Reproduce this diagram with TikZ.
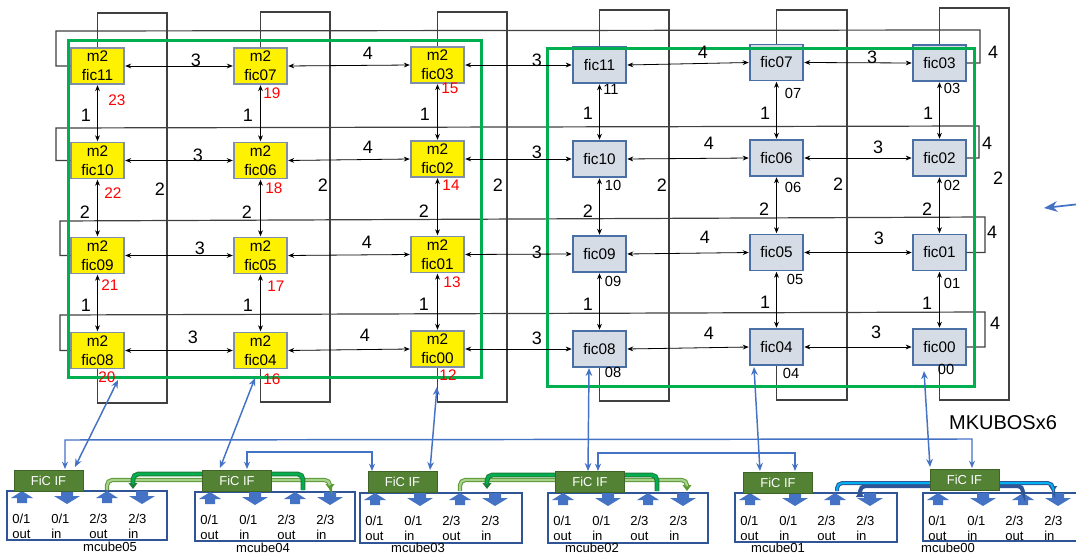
\documentclass[tikz,border=0pt]{standalone}
\usepackage{fontspec}
\setmainfont{Liberation Sans}
\usetikzlibrary{arrows.meta,calc,fit}
\definecolor{ybord}{HTML}{7F8FA9}
\definecolor{gbord}{HTML}{4A6FA5}
\definecolor{gfill}{HTML}{D6DCE5}
\definecolor{wrapc}{HTML}{404040}
\definecolor{grn}{HTML}{00B050}
\definecolor{ficg}{HTML}{548235}
\definecolor{ficd}{HTML}{3F6428}
\definecolor{cubeb}{HTML}{2F5597}
\definecolor{blkc}{HTML}{4472C4}
\definecolor{bline}{HTML}{4472C4}
\definecolor{lgout}{HTML}{5A9A32}
\definecolor{lgin}{HTML}{A9D18E}
\definecolor{dgout}{HTML}{1F7A3A}
\definecolor{dgin}{HTML}{00B050}
\definecolor{cyin}{HTML}{00B0F0}
\definecolor{redn}{HTML}{FF0000}
\newcommand\cubeins[3]{%
 \pic at ({#2+15},#3) {blkup};
 \pic at ({#2+60},#3) {blkdn};
 \pic at ({#2+100},#3) {blkup};
 \pic at ({#2+135},#3) {blkdn};
 \node[ctxt] (#1a) at ({#2+5},{#3+32}) {0/1};
 \node[ctxt] (#1b) at ({#2+5},{#3+47}) {out};
 \node[ctxt] (#1c) at ({#2+44},{#3+32}) {0/1};
 \node[ctxt] (#1d) at ({#2+44},{#3+47}) {in};
 \node[ctxt] (#1e) at ({#2+82},{#3+32}) {2/3};
 \node[ctxt] (#1f) at ({#2+82},{#3+47}) {out};
 \node[ctxt] (#1g) at ({#2+121},{#3+32}) {2/3};
 \node[ctxt] (#1h) at ({#2+121},{#3+47}) {in};
}
\begin{document}
\begin{tikzpicture}[x=0.75pt,y=-0.75pt,
 ybox/.style={draw=ybord, fill=yellow, line width=0.8pt, minimum width=39.75pt, minimum height=27pt, inner sep=0pt, align=center, font=\fontsize{11.5}{14}\selectfont},
 gbox/.style={draw=gbord, fill=gfill, line width=0.9pt, minimum width=39.75pt, minimum height=27pt, inner sep=0pt, font=\fontsize{11.5}{14}\selectfont},
 wrapl/.style={draw=wrapc, line width=0.9pt},
 lnk/.style={draw=black, line width=0.6pt, {Stealth[length=4.5pt,width=3.6pt]}-{Stealth[length=4.5pt,width=3.6pt]}, shorten <=0.5pt, shorten >=0.5pt},
 lab/.style={font=\fontsize{13.5}{15}\selectfont, inner sep=0pt},
 rednum/.style={text=redn, font=\fontsize{11.5}{13}\selectfont, inner sep=0pt},
 gnum/.style={text=black, font=\fontsize{11}{13}\selectfont, inner sep=0pt},
 grect/.style={draw=grn, line width=2.25pt},
 fic/.style={fill=ficg, draw=ficd, line width=0.5pt, text=white, minimum width=52pt, minimum height=15.75pt, inner sep=0pt, font=\fontsize{9.7}{11}\selectfont},
 cubebox/.style={draw=cubeb, line width=2.2pt, inner sep=0pt},
 ctxt/.style={font=\fontsize{9.8}{11}\selectfont, inner sep=0pt, anchor=base west},
 cname/.style={font=\fontsize{9.8}{11}\selectfont, inner sep=0pt, anchor=base},
 barr/.style={draw=bline, line width=1.1pt, {Stealth[length=6pt,width=5pt]}-{Stealth[length=6pt,width=5pt]}},
 bus/.style={draw=bline, line width=1.1pt, {Stealth[length=5.5pt,width=4.5pt]}-{Stealth[length=5.5pt,width=4.5pt]}},
 lgo/.style={draw=lgout, line width=3.2pt, rounded corners=4pt, -{Triangle[length=4.5pt,width=6.5pt]}},
 lgi/.style={draw=lgin, line width=1.7pt, rounded corners=4pt, shorten >=3.5pt},
 dgo/.style={draw=dgout, line width=3.6pt, rounded corners=4pt, -{Triangle[length=4.5pt,width=6.5pt]}},
 dgi/.style={draw=dgin, line width=2pt, rounded corners=4pt, shorten >=3.5pt},
 cyo/.style={draw=cubeb, line width=3pt, rounded corners=4pt, -{Triangle[length=4.5pt,width=6pt]}},
 cyi/.style={draw=cyin, line width=1.5pt, rounded corners=4pt, shorten >=3.5pt},
 nvo/.style={draw=cubeb, line width=3pt, rounded corners=4pt, -{Triangle[length=4.5pt,width=6pt]}},
 blkup/.pic={\fill[blkc] (-5,12) -- (-5,7) -- (-11,7) -- (0,0) -- (11,7) -- (5,7) -- (5,12) -- cycle;},
 blkdn/.pic={\fill[blkc] (-6,0) -- (-6,5) -- (-13,5) -- (0,13) -- (13,5) -- (6,5) -- (6,0) -- cycle;}
]
\useasboundingbox (0,0) rectangle (1076,556);
\fill[white] (0,0) rectangle (1076,556);

% ---------------- wrap-around lines (under the boxes)
\coordinate (y11n) at (97.5,48);  % helper only for ordering
% ---------------- nodes of the grid
\node[ybox] (y11) at (97.5,66) {m2\\fic11};
\node[ybox] (y07) at (260.5,66) {m2\\fic07};
\node[ybox] (y03) at (437.5,65) {m2\\fic03};
\node[ybox] (y10) at (97.5,160.5) {m2\\fic10};
\node[ybox] (y06) at (260.5,160.5) {m2\\fic06};
\node[ybox] (y02) at (437.5,159) {m2\\fic02};
\node[ybox] (y09) at (97.5,255.5) {m2\\fic09};
\node[ybox] (y05) at (260.5,255.5) {m2\\fic05};
\node[ybox] (y01) at (437.5,254.5) {m2\\fic01};
\node[ybox] (y08) at (97.5,350.5) {m2\\fic08};
\node[ybox] (y04) at (260.5,350.5) {m2\\fic04};
\node[ybox] (y00) at (437.5,349) {m2\\fic00};

\node[gbox] (g11) at (599.5,65) {fic11};
\node[gbox] (g07) at (776.5,62.5) {fic07};
\node[gbox] (g03) at (939.5,63) {fic03};
\node[gbox] (g10) at (599.5,159) {fic10};
\node[gbox] (g06) at (776.5,158) {fic06};
\node[gbox] (g02) at (939.5,158) {fic02};
\node[gbox] (g09) at (599.5,254) {fic09};
\node[gbox] (g05) at (776.5,252.5) {fic05};
\node[gbox] (g01) at (939.5,252.5) {fic01};
\node[gbox] (g08) at (599.5,349) {fic08};
\node[gbox] (g04) at (776.5,347) {fic04};
\node[gbox] (g00) at (939.5,347) {fic00};

\draw[wrapl] (y11.north) |- (167,13) -- (167,403) -| (y08.south);
\draw[wrapl] (y07.north) |- (330,12) -- (330,402) -| (y04.south);
\draw[wrapl] (y03.north) |- (507,12) -- (507,402) -| (y00.south);
\draw[wrapl] (g11.north) |- (669,10) -- (669,401) -| (g08.south);
\draw[wrapl] (g07.north) |- (847,10) -- (847,400) -| (g04.south);
\draw[wrapl] (g03.north) |- (1009,8) -- (1009,400) -| (g00.south);

\draw[wrapl] (y11.west) -| (56,31) -- (980,30) |- (g03.east);
\draw[wrapl] (y10.west) -| (56,128) -- (979,126) |- (g02.east);
\draw[wrapl] (y09.west) -| (60,221) -- (985,217) |- (g01.east);
\draw[wrapl] (y08.west) -| (60,315) -- (985,312) |- (g00.east);

% ---------------- green frames
\draw[grect] (68,41) rectangle (481,378);
\draw[grect] (547,49) rectangle (974,387);

% ---------------- links
\foreach \a/\b in {y11/y07,y07/y03,y03/g11,g11/g07,g07/g03,
                   y10/y06,y06/y02,y02/g10,g10/g06,g06/g02,
                   y09/y05,y05/y01,y01/g09,g09/g05,g05/g01,
                   y08/y04,y04/y00,y00/g08,g08/g04,g04/g00}
  {\draw[lnk] (\a.east) -- (\b.west);}
\foreach \a/\b in {y11/y10,y10/y09,y09/y08,y07/y06,y06/y05,y05/y04,y03/y02,y02/y01,y01/y00,
                   g11/g10,g10/g09,g09/g08,g07/g06,g06/g05,g05/g04,g03/g02,g02/g01,g01/g00}
  {\draw[lnk] (\a.south) -- (\b.north);}

% ---------------- link labels
\node[lab] (h11) at (196,60) {3};
\node[lab] (h12) at (368,53) {4};
\node[lab] (h13) at (537,60) {3};
\node[lab] (h14) at (703,52) {4};
\node[lab] (h15) at (872,57) {3};
\node[lab] (h21) at (198,155) {3};
\node[lab] (h22) at (368,147) {4};
\node[lab] (h23) at (537,152) {3};
\node[lab] (h24) at (709,143) {4};
\node[lab] (h25) at (878,147) {3};
\node[lab] (h31) at (200,248) {3};
\node[lab] (h32) at (367,242) {4};
\node[lab] (h33) at (537,252) {3};
\node[lab] (h34) at (705,237) {4};
\node[lab] (h35) at (879,238) {3};
\node[lab] (h41) at (193,337) {3};
\node[lab] (h42) at (365,335) {4};
\node[lab] (h43) at (537,338) {3};
\node[lab] (h44) at (709,333) {4};
\node[lab] (h45) at (876,332) {3};

\node[lab] (v11) at (86,115) {1};
\node[lab] (v12) at (248,115) {1};
\node[lab] (v13) at (425,114) {1};
\node[lab] (v14) at (588,113) {1};
\node[lab] (v15) at (765,113) {1};
\node[lab] (v16) at (928,113) {1};
\node[lab] (v21) at (85,212) {2};
\node[lab] (v22) at (247,212) {2};
\node[lab] (v23) at (424,211) {2};
\node[lab] (v24) at (588,211) {2};
\node[lab] (v25) at (764,209) {2};
\node[lab] (v26) at (927,209) {2};
\node[lab] (v31) at (86,305) {1};
\node[lab] (v32) at (248,305) {1};
\node[lab] (v33) at (424,304) {1};
\node[lab] (v34) at (588,304) {1};
\node[lab] (v35) at (765,302) {1};
\node[lab] (v36) at (927,303) {1};

\node[lab] (c1) at (160,189) {2};
\node[lab] (c2) at (323,185) {2};
\node[lab] (c3) at (498,185) {2};
\node[lab] (c4) at (662,185) {2};
\node[lab] (c5) at (838,184) {2};
\node[lab] (c6) at (998,178) {2};
\node[lab] (r1) at (993,52) {4};
\node[lab] (r2) at (987,143) {4};
\node[lab] (r3) at (992,232) {4};
\node[lab] (r4) at (995,323) {4};

% ---------------- numbers
\node[rednum] (n23) at (117,100) {23};
\node[rednum] (n19) at (272,93) {19};
\node[rednum] (n15) at (450,88) {15};
\node[rednum] (n22) at (113,193) {22};
\node[rednum] (n18) at (274,188) {18};
\node[rednum] (n14) at (451,185) {14};
\node[rednum] (n21) at (110,285) {21};
\node[rednum] (n17) at (276,286) {17};
\node[rednum] (n13) at (452,282) {13};
\node[rednum] (n20) at (107,377) {20};
\node[rednum] (n16) at (272,379) {16};
\node[rednum] (n12) at (448,375) {12};

\node[gnum] (k11) at (611,89) {11};
\node[gnum] (k07) at (793,93) {07};
\node[gnum] (k03) at (952,88) {03};
\node[gnum] (k10) at (613,185) {10};
\node[gnum] (k06) at (793,187) {06};
\node[gnum] (k02) at (952,185) {02};
\node[gnum] (k09) at (613,281) {09};
\node[gnum] (k05) at (795,279) {05};
\node[gnum] (k01) at (952,283) {01};
\node[gnum] (k08) at (613,372) {08};
\node[gnum] (k04) at (791,373) {04};
\node[gnum] (k00) at (946,369) {00};

% ---------------- lower part: mcube boxes
\node[cubebox, fit={(7,491) (167,540)}] (m05) {};
\node[cubebox, fit={(195,492) (355,541)}] (m04) {};
\node[cubebox, fit={(360,493) (522,543)}] (m03) {};
\node[cubebox, fit={(548,493) (708,543)}] (m02) {};
\node[cubebox, fit={(735,493) (897,542)}] (m01) {};
\node[cubebox, fit={(923,493) (1090,541)}] (m00) {};
\cubeins{p5}{7}{491}
\cubeins{p4}{195}{492}
\cubeins{p3}{360}{493}
\cubeins{p2}{548}{493}
\cubeins{p1}{735}{493}
\cubeins{p0}{923}{493}
\node[cname] (l05) at (110,551) {mcube05};
\node[cname] (l04) at (263,552) {mcube04};
\node[cname] (l03) at (418,552.5) {mcube03};
\node[cname] (l02) at (592,552.5) {mcube02};
\node[cname] (l01) at (778,552.5) {mcube01};
\node[cname] (l00) at (948,552) {mcube00};

% loops between neighbouring cubes
\draw[lgo] (107,490) -- (107,480) -- (330,480) -- (330,490);
\draw[lgi] (107,490) -- (107,480) -- (330,480) -- (330,490);
\draw[dgo] (303,490) -- (303,474) -- (133,474) -- (133,489);
\draw[dgi] (303,490) -- (303,474) -- (133,474) -- (133,489);
\draw[lgo] (460,491) -- (460,480) -- (687,480) -- (687,491);
\draw[lgi] (460,491) -- (460,480) -- (687,480) -- (687,491);
\draw[dgo] (657,491) -- (657,475) -- (487,475) -- (487,489);
\draw[dgi] (657,491) -- (657,475) -- (487,475) -- (487,489);
\draw[nvo] (1023,491) -- (1023,486) -- (860,486) -- (860,491);
\draw[cyo] (837,491) -- (837,483) -- (1053,483) -- (1053,492);
\draw[cyi] (837,491) -- (837,483) -- (1053,483) -- (1053,492);

% FiC IF blocks
\node[fic] (f05) at (48.5,480.5) {FiC IF};
\node[fic] (f04) at (237,480.5) {FiC IF};
\node[fic] (f03) at (402.5,482) {FiC IF};
\node[fic] (f02) at (590,482) {FiC IF};
\node[fic] (f01) at (778,482.5) {FiC IF};
\node[fic] (f00) at (964.5,480) {FiC IF};

% blue connections
\coordinate (t05) at (118,380);
\coordinate (b05) at (75,467);
\coordinate (t04) at (255,378);
\coordinate (b04) at (220,468);
\coordinate (t03) at (437,387);
\coordinate (b03) at (430,470);
\coordinate (t02) at (589,368);
\coordinate (b02) at (588,471);
\coordinate (t01) at (754,367);
\coordinate (b01) at (760,471);
\coordinate (t00) at (924,371);
\coordinate (b00) at (930,467);
\foreach \i in {05,04,03,02,01,00} {\draw[barr] (t\i) -- (b\i);}

\coordinate (ba1) at (65,469);
\coordinate (ba2) at (972,468);
\draw[bus] (ba1) -- (65,440) -- (972,439) -- (ba2);
\coordinate (bb1) at (247,469);
\coordinate (bb2) at (372,471);
\draw[bus] (bb1) -- (247,452) -- (372,452) -- (bb2);
\coordinate (bc1) at (598,471);
\coordinate (bc2) at (795,471);
\draw[bus] (bc1) -- (598,453) -- (795,453) -- (bc2);

\coordinate (ra) at (1080,204);
\coordinate (rb) at (1044,208);
\draw[draw=bline, line width=1.3pt, -{Stealth[length=10pt,width=8pt]}] (ra) -- (rb);

\node[font=\fontsize{15}{17}\selectfont, inner sep=0pt] (mk) at (1003,423) {MKUBOSx6};
\end{tikzpicture}
\end{document}
